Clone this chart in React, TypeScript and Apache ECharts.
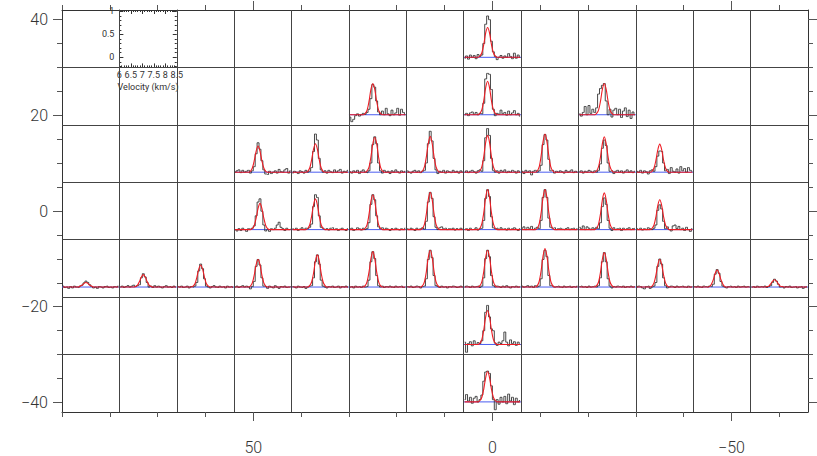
import React, { useEffect, useRef } from "react";
import * as echarts from "echarts";

// ---- main map axes (arcsec offsets) ----
const xMajorTicks = [50, 0, -50];
const xMinorTicks = [90, 80, 70, 60, 40, 30, 20, 10, -10, -20, -30, -40, -60];
const yMajorTicks = [40, 20, 0, -20, -40];
const yMinorTicks = [35, 30, 25, 15, 10, 5, -5, -10, -15, -25, -30, -35];
const xBounds = [78, 66, 54, 42, 30, 18, 6, -6, -18, -30, -42, -54];
const yBounds = [30, 18, 6, -6, -18, -30];

// ---- panel centres ----
const panelX = [0, 24, 0, -24, 48, 36, 24, 12, 0, -12, -24, -36, 48, 36, 24, 12, 0, -12, -24, -36,
  84, 72, 60, 48, 36, 24, 12, 0, -12, -24, -36, -48, -60, 0, 0];
const panelY = [36, 24, 24, 24, 12, 12, 12, 12, 12, 12, 12, 12, 0, 0, 0, 0, 0, 0, 0, 0,
  -12, -12, -12, -12, -12, -12, -12, -12, -12, -12, -12, -12, -12, -24, -36];
const insetX = 72;
const insetY = 36;

// ---- inset axis ticks ----
const velTicks = [6, 6.5, 7, 7.5, 8, 8.5];
const tMajorTicks = [0, 0.5, 1];
const tMinorTicks = [-0.2, -0.1, 0.1, 0.2, 0.3, 0.4, 0.6, 0.7, 0.8, 0.9];

// ---- spectra (30 channels, 6.0 - 8.5 km/s) ----
const spectra: number[][] = [
  [-0.02, 0.03, -0.04, 0.05, 0.0, 0.04, -0.03, 0.06, 0.02, 0.05, 0.3, 0.72, 0.9, 0.82, 0.35, 0.12, 0.02, -0.05, 0.0, 0.04, -0.02, 0.03, 0.0, 0.08, 0.02, -0.03, 0.09, -0.02, 0.05, 0.0],
  [-0.05, -0.15, -0.1, -0.02, 0.02, -0.03, 0.0, 0.03, 0.01, 0.05, 0.12, 0.35, 0.66, 0.6, 0.3, 0.06, 0.0, 0.08, 0.0, 0.14, 0.02, -0.02, 0.1, 0.0, 0.04, 0.14, -0.01, 0.12, 0.05, 0.0],
  [0.0, 0.03, -0.02, 0.04, 0.06, 0.01, 0.05, 0.0, 0.03, 0.02, 0.25, 0.78, 0.9, 0.88, 0.55, 0.12, -0.02, 0.03, 0.01, 0.1, 0.02, 0.05, -0.01, 0.08, 0.0, 0.04, 0.09, 0.0, 0.03, -0.03],
  [0.02, -0.03, 0.05, 0.18, 0.0, 0.2, 0.03, 0.12, 0.05, 0.15, 0.45, 0.57, 0.64, 0.68, 0.3, 0.0, 0.12, -0.05, 0.1, 0.14, 0.0, 0.12, -0.06, 0.08, 0.15, -0.04, 0.1, -0.08, 0.06, 0.0],
  [0.0, 0.03, 0.05, -0.01, 0.04, 0.0, 0.02, 0.04, -0.02, 0.03, 0.12, 0.4, 0.64, 0.5, 0.25, 0.05, -0.04, -0.05, 0.02, -0.03, 0.0, 0.03, -0.02, 0.06, 0.01, 0.0, 0.05, 0.08, -0.02, 0.03],
  [-0.02, 0.02, 0.0, -0.03, 0.03, 0.01, -0.02, 0.04, 0.0, 0.02, 0.1, 0.45, 0.83, 0.7, 0.3, 0.05, 0.0, 0.03, -0.02, 0.04, 0.01, -0.01, 0.05, 0.0, 0.03, 0.06, -0.02, 0.02, 0.0, 0.04],
  [0.01, -0.02, 0.03, 0.0, 0.04, -0.03, 0.02, 0.05, 0.0, -0.01, 0.03, 0.2, 0.6, 0.77, 0.62, 0.2, 0.03, -0.02, 0.04, 0.0, 0.02, -0.03, 0.03, 0.0, 0.05, 0.01, -0.02, 0.03, 0.0, 0.02],
  [0.03, 0.0, -0.02, 0.02, 0.04, 0.0, 0.03, -0.01, 0.02, 0.04, 0.2, 0.62, 0.89, 0.68, 0.3, 0.05, -0.03, 0.02, 0.0, 0.04, -0.02, 0.03, 0.01, -0.01, 0.04, 0.0, 0.02, -0.02, 0.03, 0.0],
  [0.0, 0.03, -0.01, 0.02, 0.04, 0.01, -0.02, 0.03, 0.05, 0.02, 0.25, 0.75, 0.95, 0.8, 0.3, 0.04, 0.0, 0.03, -0.02, 0.04, 0.01, 0.05, -0.01, 0.02, 0.0, 0.04, 0.02, -0.02, 0.03, 0.0],
  [0.02, -0.03, 0.04, 0.0, 0.03, -0.06, 0.02, 0.04, 0.0, 0.03, 0.15, 0.6, 0.82, 0.7, 0.28, 0.03, 0.04, -0.02, 0.02, 0.0, 0.03, 0.01, -0.02, 0.04, 0.0, 0.02, 0.05, -0.01, 0.02, 0.0],
  [0.01, 0.03, -0.02, 0.02, 0.0, 0.04, 0.02, -0.01, 0.03, 0.0, 0.04, 0.18, 0.52, 0.7, 0.58, 0.2, 0.02, 0.03, -0.03, 0.02, 0.04, 0.0, 0.03, -0.02, 0.02, 0.05, 0.0, 0.03, -0.01, 0.02],
  [0.02, 0.0, 0.04, -0.02, 0.03, 0.01, -0.04, 0.03, 0.05, 0.02, 0.12, 0.35, 0.46, 0.45, 0.2, 0.03, 0.06, -0.03, 0.1, 0.02, 0.0, 0.07, -0.02, 0.12, 0.03, 0.08, 0.0, 0.1, 0.04, 0.02],
  [0.0, -0.03, 0.02, -0.02, 0.03, 0.0, -0.04, 0.02, 0.01, 0.03, 0.08, 0.3, 0.6, 0.67, 0.4, 0.1, -0.03, 0.0, -0.04, 0.02, 0.0, 0.03, 0.1, 0.16, 0.05, 0.02, -0.02, 0.03, 0.0, 0.01],
  [0.02, 0.0, 0.03, -0.02, 0.01, 0.04, 0.0, 0.03, 0.02, 0.05, 0.12, 0.5, 0.76, 0.7, 0.3, 0.05, 0.03, 0.0, 0.02, -0.01, 0.03, 0.04, 0.0, 0.02, -0.02, 0.01, 0.03, 0.0, -0.02, 0.02],
  [0.01, 0.03, -0.02, 0.0, 0.04, 0.02, -0.01, 0.03, 0.0, 0.02, 0.15, 0.55, 0.76, 0.65, 0.3, 0.06, 0.02, 0.04, 0.0, 0.03, 0.01, -0.02, 0.02, 0.0, 0.03, 0.01, -0.01, 0.02, 0.0, 0.03],
  [0.02, 0.0, 0.03, 0.01, -0.02, 0.03, 0.0, 0.02, 0.04, 0.01, 0.18, 0.6, 0.81, 0.68, 0.28, 0.05, 0.0, 0.04, 0.06, 0.02, 0.03, 0.0, 0.02, 0.01, 0.03, -0.01, 0.02, 0.0, 0.03, 0.01],
  [0.0, 0.02, -0.02, 0.03, 0.0, 0.01, 0.04, -0.01, 0.02, 0.03, 0.2, 0.68, 0.87, 0.72, 0.28, 0.04, 0.02, 0.03, 0.0, 0.04, 0.01, 0.02, -0.01, 0.03, 0.0, 0.02, 0.04, 0.01, -0.02, 0.02],
  [0.03, 0.06, 0.0, 0.05, 0.02, 0.07, 0.0, 0.03, 0.05, 0.02, 0.2, 0.7, 0.87, 0.7, 0.25, 0.05, 0.03, 0.04, 0.0, 0.02, 0.03, 0.01, 0.0, 0.02, 0.04, 0.0, 0.02, 0.03, 0.0, 0.02],
  [0.05, 0.02, 0.08, 0.0, 0.06, 0.03, 0.0, 0.04, 0.02, 0.05, 0.02, 0.15, 0.5, 0.69, 0.55, 0.2, 0.03, -0.02, 0.04, 0.0, 0.02, 0.03, -0.02, 0.03, 0.0, 0.02, 0.04, 0.0, 0.02, 0.03],
  [0.02, 0.0, 0.03, -0.01, 0.02, 0.0, 0.04, 0.02, 0.0, 0.03, 0.1, 0.42, 0.54, 0.45, 0.18, 0.02, 0.06, 0.0, -0.03, 0.08, 0.1, 0.02, 0.07, 0.0, 0.03, -0.02, 0.05, 0.0, -0.04, 0.02],
  [0.02, -0.01, 0.0, -0.03, 0.01, -0.02, 0.02, 0.0, -0.01, 0.02, 0.04, 0.09, 0.13, 0.1, 0.05, 0.01, -0.02, 0.0, -0.03, 0.01, 0.0, -0.02, 0.01, 0.02, -0.01, 0.0, -0.02, 0.01, 0.0, 0.02],
  [0.0, 0.02, -0.01, 0.01, 0.03, 0.0, 0.02, 0.04, 0.01, 0.03, 0.05, 0.2, 0.29, 0.22, 0.1, 0.0, 0.02, -0.01, 0.03, 0.0, 0.02, 0.0, -0.02, 0.01, 0.03, 0.0, 0.01, -0.01, 0.02, 0.0],
  [0.01, 0.0, 0.02, -0.01, 0.0, 0.02, -0.02, 0.01, 0.0, 0.02, 0.1, 0.35, 0.5, 0.4, 0.18, 0.02, 0.0, -0.02, 0.01, 0.03, 0.0, -0.01, 0.02, 0.0, 0.01, -0.02, 0.02, 0.0, 0.01, -0.01],
  [0.0, 0.02, -0.01, 0.01, 0.03, 0.0, 0.02, 0.0, -0.04, 0.01, 0.12, 0.45, 0.6, 0.48, 0.2, 0.02, 0.01, -0.03, 0.02, 0.0, -0.02, 0.03, 0.0, -0.03, 0.01, 0.0, 0.02, -0.01, 0.0, 0.01],
  [0.01, 0.0, -0.02, 0.02, 0.0, -0.01, 0.01, -0.03, 0.0, 0.02, 0.03, 0.2, 0.55, 0.7, 0.5, 0.15, 0.02, 0.0, -0.02, 0.01, 0.0, 0.02, -0.01, 0.0, 0.02, -0.02, 0.01, 0.0, 0.02, 0.0],
  [0.0, 0.01, -0.02, 0.02, 0.0, 0.01, -0.01, 0.02, 0.0, 0.01, 0.15, 0.55, 0.77, 0.62, 0.25, 0.03, 0.0, 0.02, -0.01, 0.01, 0.0, 0.02, 0.0, -0.01, 0.02, 0.0, 0.01, 0.02, -0.01, 0.0],
  [0.01, 0.0, 0.02, -0.01, 0.0, 0.02, 0.01, -0.02, 0.01, 0.02, 0.18, 0.6, 0.8, 0.64, 0.25, 0.03, 0.01, -0.01, 0.02, 0.0, 0.01, -0.02, 0.01, 0.0, 0.02, 0.01, -0.01, 0.0, 0.02, 0.0],
  [0.0, 0.02, 0.01, -0.01, 0.02, 0.0, 0.01, 0.02, -0.01, 0.02, 0.2, 0.62, 0.8, 0.66, 0.25, 0.03, 0.0, 0.02, 0.01, -0.01, 0.02, 0.0, 0.03, 0.0, -0.02, 0.01, 0.0, 0.02, 0.0, 0.01],
  [0.02, 0.0, 0.01, 0.03, 0.0, 0.02, -0.01, 0.03, 0.0, 0.02, 0.18, 0.6, 0.8, 0.66, 0.25, 0.03, 0.02, 0.0, 0.01, 0.02, 0.0, -0.01, 0.02, 0.0, 0.01, 0.02, -0.01, 0.01, 0.0, 0.02],
  [0.01, 0.02, 0.0, 0.01, -0.01, 0.02, 0.0, 0.01, 0.02, 0.0, 0.03, 0.2, 0.55, 0.75, 0.55, 0.18, 0.02, -0.02, 0.01, 0.0, 0.02, 0.01, 0.0, 0.02, -0.01, 0.01, 0.0, 0.02, 0.0, 0.01],
  [0.0, 0.02, 0.01, -0.02, -0.04, 0.01, 0.02, -0.03, 0.0, 0.02, 0.1, 0.45, 0.61, 0.5, 0.2, 0.03, -0.02, 0.0, 0.02, 0.01, -0.01, 0.02, 0.0, 0.01, 0.02, 0.0, -0.01, 0.02, 0.0, 0.01],
  [0.01, 0.0, 0.02, 0.0, -0.01, 0.02, 0.01, 0.0, 0.02, 0.01, 0.06, 0.28, 0.38, 0.3, 0.12, 0.02, 0.0, -0.02, 0.01, 0.02, 0.0, 0.01, -0.01, 0.02, 0.0, 0.01, 0.02, 0.0, 0.01, 0.0],
  [0.0, 0.01, -0.01, 0.02, 0.0, 0.01, 0.0, 0.02, -0.01, 0.01, 0.03, 0.1, 0.17, 0.13, 0.06, 0.0, 0.01, -0.02, 0.01, 0.0, 0.02, -0.01, 0.0, 0.01, -0.02, 0.0, 0.01, -0.03, 0.0, 0.01],
  [0.05, -0.17, 0.02, 0.06, -0.03, 0.08, 0.0, 0.04, 0.02, 0.08, 0.3, 0.7, 0.85, 0.6, 0.34, 0.3, 0.03, -0.02, 0.05, 0.02, 0.08, 0.27, 0.05, -0.03, 0.1, 0.02, 0.06, -0.02, 0.05, 0.0],
  [0.05, 0.16, 0.02, 0.1, -0.03, 0.08, 0.12, 0.0, 0.05, 0.15, 0.45, 0.65, 0.67, 0.62, 0.35, 0.05, -0.17, 0.05, -0.05, 0.1, 0.0, 0.12, -0.04, 0.17, 0.02, 0.1, -0.06, 0.08, 0.0, 0.03],
];

// ---- Gaussian fit values around the line (channels fitStart .. fitStart+8), zero elsewhere ----
const fitStart = [8, 8, 8, 9, 8, 8, 9, 8, 8, 8, 9, 8, 9, 8, 8, 8, 8, 8, 9, 8,
  8, 8, 8, 8, 9, 8, 8, 8, 8, 9, 8, 8, 8, 8, 8];
const fitVals: number[][] = [
  [0.03, 0.10, 0.28, 0.53, 0.65, 0.53, 0.28, 0.10, 0.03],
  [0.03, 0.10, 0.29, 0.55, 0.68, 0.55, 0.29, 0.10, 0.03],
  [0.03, 0.11, 0.31, 0.59, 0.73, 0.59, 0.31, 0.11, 0.03],
  [0.03, 0.10, 0.29, 0.55, 0.68, 0.55, 0.29, 0.10, 0.03],
  [0.02, 0.09, 0.25, 0.46, 0.57, 0.46, 0.25, 0.09, 0.02],
  [0.02, 0.09, 0.27, 0.50, 0.62, 0.50, 0.27, 0.09, 0.02],
  [0.03, 0.11, 0.33, 0.62, 0.76, 0.62, 0.33, 0.11, 0.03],
  [0.03, 0.12, 0.34, 0.63, 0.78, 0.63, 0.34, 0.12, 0.03],
  [0.03, 0.12, 0.34, 0.65, 0.80, 0.65, 0.34, 0.12, 0.03],
  [0.03, 0.12, 0.36, 0.67, 0.83, 0.67, 0.36, 0.12, 0.03],
  [0.03, 0.12, 0.33, 0.62, 0.77, 0.62, 0.33, 0.12, 0.03],
  [0.02, 0.09, 0.26, 0.49, 0.61, 0.49, 0.26, 0.09, 0.02],
  [0.02, 0.09, 0.25, 0.46, 0.57, 0.46, 0.25, 0.09, 0.02],
  [0.03, 0.10, 0.29, 0.54, 0.67, 0.54, 0.29, 0.10, 0.03],
  [0.03, 0.11, 0.33, 0.62, 0.76, 0.62, 0.33, 0.11, 0.03],
  [0.03, 0.12, 0.35, 0.66, 0.81, 0.66, 0.35, 0.12, 0.03],
  [0.03, 0.13, 0.37, 0.70, 0.87, 0.70, 0.37, 0.13, 0.03],
  [0.03, 0.13, 0.37, 0.70, 0.87, 0.70, 0.37, 0.13, 0.03],
  [0.03, 0.12, 0.34, 0.65, 0.80, 0.65, 0.34, 0.12, 0.03],
  [0.03, 0.10, 0.28, 0.53, 0.65, 0.53, 0.28, 0.10, 0.03],
  [0.00, 0.02, 0.04, 0.08, 0.10, 0.08, 0.04, 0.02, 0.00],
  [0.01, 0.04, 0.12, 0.22, 0.27, 0.22, 0.12, 0.04, 0.01],
  [0.02, 0.07, 0.21, 0.39, 0.48, 0.39, 0.21, 0.07, 0.02],
  [0.02, 0.09, 0.26, 0.49, 0.60, 0.49, 0.26, 0.09, 0.02],
  [0.03, 0.11, 0.30, 0.57, 0.70, 0.57, 0.30, 0.11, 0.03],
  [0.03, 0.12, 0.33, 0.62, 0.77, 0.62, 0.33, 0.12, 0.03],
  [0.03, 0.12, 0.34, 0.65, 0.80, 0.65, 0.34, 0.12, 0.03],
  [0.03, 0.12, 0.34, 0.65, 0.80, 0.65, 0.34, 0.12, 0.03],
  [0.03, 0.13, 0.36, 0.68, 0.84, 0.68, 0.36, 0.13, 0.03],
  [0.03, 0.11, 0.32, 0.61, 0.75, 0.61, 0.32, 0.11, 0.03],
  [0.02, 0.09, 0.26, 0.49, 0.60, 0.49, 0.26, 0.09, 0.02],
  [0.01, 0.06, 0.16, 0.30, 0.37, 0.30, 0.16, 0.06, 0.01],
  [0.01, 0.02, 0.07, 0.13, 0.16, 0.13, 0.07, 0.02, 0.01],
  [0.03, 0.11, 0.32, 0.60, 0.74, 0.60, 0.32, 0.11, 0.03],
  [0.03, 0.10, 0.28, 0.53, 0.66, 0.53, 0.28, 0.10, 0.03],
];

const V_MIN = 6;
const V_MAX = 8.5;
const T_MIN = -0.22;
const T_MAX = 1.03;
const N_CHAN = 30;
const chanV = Array.from({ length: N_CHAN }, (_, i) => V_MIN + ((i + 0.5) * (V_MAX - V_MIN)) / N_CHAN);

const MAP_X = [-66, 90];
const MAP_Y = [-42, 42];
const FRAME = "#333";
const TICK = "#555";
const LABEL_FONT = { fontFamily: "Roboto", fontWeight: 300, color: "#333", fontSize: 16 };
const minus = (v: any) => String(v).replace("-", "\u2212");

function mainX(position: string, major: boolean, labels: boolean) {
  return {
    type: "value", gridIndex: 0, min: MAP_X[0], max: MAP_X[1], inverse: true, position,
    axisLine: { show: major, onZero: false, lineStyle: { color: FRAME, width: 1 } },
    axisTick: { show: true, inside: false, length: major ? 9 : 5, customValues: major ? xMajorTicks : xMinorTicks, lineStyle: { color: TICK } },
    axisLabel: { show: labels, customValues: xMajorTicks, margin: 27, ...LABEL_FONT, formatter: minus },
    splitLine: { show: false },
  };
}
function mainY(position: string, major: boolean, labels: boolean) {
  return {
    type: "value", gridIndex: 0, min: MAP_Y[0], max: MAP_Y[1], position,
    axisLine: { show: major, onZero: false, lineStyle: { color: FRAME, width: 1 } },
    axisTick: { show: true, inside: false, length: major ? 9 : 5, customValues: major ? yMajorTicks : yMinorTicks, lineStyle: { color: TICK } },
    axisLabel: { show: labels, customValues: yMajorTicks, margin: 14, ...LABEL_FONT, formatter: minus },
    splitLine: { show: false },
  };
}

export default function App() {
  const ref = useRef<HTMLDivElement>(null);
  useEffect(() => {
    if (!ref.current) return;
    const chart = echarts.init(ref.current, null, { renderer: "svg" });

    const grids: any[] = [{ left: 62, right: 9, top: 10, bottom: 44 }];
    const xAxes: any[] = [mainX("bottom", true, true), mainX("bottom", false, false), mainX("top", true, false), mainX("top", false, false)];
    const yAxes: any[] = [mainY("left", true, true), mainY("left", false, false), mainY("right", true, false), mainY("right", false, false)];
    const series: any[] = [
      {
        type: "line", xAxisIndex: 0, yAxisIndex: 0, data: [], silent: true, symbol: "none",
        markLine: {
          silent: true, animation: false, symbol: ["none", "none"], label: { show: false },
          lineStyle: { color: "#444", width: 1, type: "solid" },
          emphasis: { disabled: true },
          data: [...xBounds.map((v) => ({ xAxis: v })), ...yBounds.map((v) => ({ yAxis: v }))],
        },
      },
    ];

    chart.setOption({ animation: false, grid: grids, xAxis: xAxes, yAxis: yAxes, series });

    const px = (v: number) => chart.convertToPixel({ xAxisIndex: 0 }, v) as number;
    const py = (v: number) => chart.convertToPixel({ yAxisIndex: 0 }, v) as number;
    const rectFor = (xc: number, yc: number) => {
      const x1 = px(xc + 6), x2 = px(xc - 6);
      const y1 = py(yc + 6), y2 = py(yc - 6);
      return { left: Math.min(x1, x2), top: Math.min(y1, y2), width: Math.abs(x2 - x1), height: Math.abs(y2 - y1) };
    };

    const hiddenX = (g: number) => ({ type: "value", gridIndex: g, min: V_MIN, max: V_MAX, show: false });
    const hiddenY = (g: number) => ({ type: "value", gridIndex: g, min: T_MIN, max: T_MAX, show: false });

    panelX.forEach((xc, k) => {
      const g = grids.length;
      grids.push(rectFor(xc, panelY[k]));
      const xi = xAxes.length; xAxes.push(hiddenX(g));
      const yi = yAxes.length; yAxes.push(hiddenY(g));
      const fit = chanV.map((v, i) => {
        const j = i - fitStart[k];
        return [v, j >= 0 && j < fitVals[k].length ? fitVals[k][j] : 0];
      });
      series.push(
        { type: "line", xAxisIndex: xi, yAxisIndex: yi, data: [[V_MIN, 0], [V_MAX, 0]], symbol: "none", silent: true, lineStyle: { color: "#4a5cf0", width: 1 }, z: 3 },
        { type: "line", xAxisIndex: xi, yAxisIndex: yi, data: chanV.map((v, i) => [v, spectra[k][i]]), step: "middle", symbol: "none", silent: true, lineStyle: { color: "#333", width: 0.9 }, z: 4 },
        { type: "line", xAxisIndex: xi, yAxisIndex: yi, data: fit, smooth: 0.3, symbol: "none", silent: true, lineStyle: { color: "#ee1c24", width: 1.1 }, z: 5 },
      );
    });

    // inset showing the spectral axes
    {
      const g = grids.length;
      grids.push(rectFor(insetX, insetY));
      const small = { fontFamily: "Roboto", fontSize: 9, color: "#333" };
      const line = { show: true, onZero: false, lineStyle: { color: FRAME, width: 1 } };
      xAxes.push({
        type: "value", gridIndex: g, min: V_MIN, max: V_MAX, interval: 0.5, position: "bottom",
        axisLine: line, axisTick: { inside: true, length: 4, lineStyle: { color: "#333" } },
        minorTick: { show: true, splitNumber: 5, length: 2, lineStyle: { color: "#333" } },
        axisLabel: { show: true, customValues: velTicks, margin: 3, ...small },
        splitLine: { show: false },
        name: "Velocity (km/s)", nameLocation: "middle", nameGap: 15, nameTextStyle: { ...small },
      });
      xAxes.push({
        type: "value", gridIndex: g, min: V_MIN, max: V_MAX, interval: 0.5, position: "top",
        axisLine: line, axisTick: { inside: true, length: 4, lineStyle: { color: "#333" } },
        minorTick: { show: true, splitNumber: 5, length: 2, lineStyle: { color: "#333" } },
        axisLabel: { show: false }, splitLine: { show: false },
      });
      const yAx = (position: string, major: boolean, labels: boolean) => ({
        type: "value", gridIndex: g, min: T_MIN, max: T_MAX, position,
        axisLine: { ...line, show: major },
        axisTick: { inside: true, length: major ? 4 : 2, customValues: major ? tMajorTicks : tMinorTicks, lineStyle: { color: "#333" } },
        axisLabel: { show: labels, customValues: tMajorTicks, margin: 5, ...small },
        splitLine: { show: false },
      });
      yAxes.push(yAx("left", true, true), yAx("left", false, false), yAx("right", true, false), yAx("right", false, false));
    }

    chart.setOption({ animation: false, grid: grids, xAxis: xAxes, yAxis: yAxes, series }, true);

    return () => chart.dispose();
  }, []);
  return <div ref={ref} style={{ position: "absolute", left: 0, top: 0, width: 817, height: 456 }} />;
}
